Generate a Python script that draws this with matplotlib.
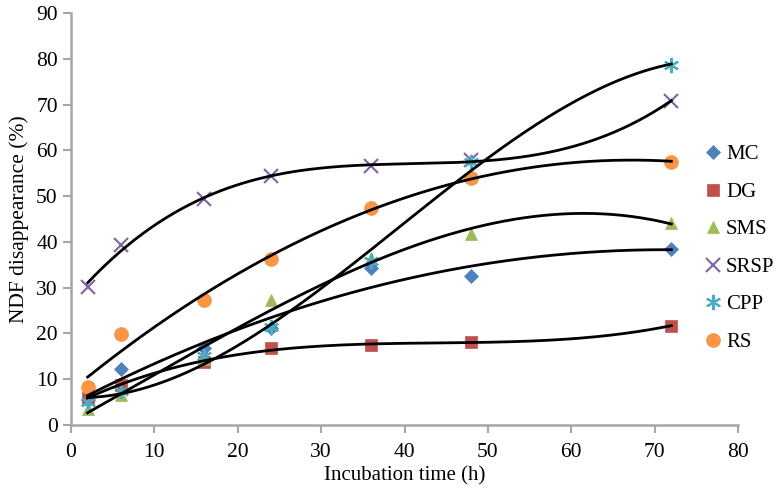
import numpy as np
import matplotlib
matplotlib.use("Agg")
import matplotlib.pyplot as plt

plt.rcParams['font.family'] = ['Liberation Serif', 'DejaVu Serif']

hours = [2, 6, 16, 24, 36, 48, 72]
mc = [5.5, 12.2, 16.8, 21.2, 34.3, 32.5, 38.5]
dg = [6.0, 8.8, 13.8, 16.8, 17.4, 18.1, 21.7]
sms = [3.5, 6.5, 14.5, 27.3, 36.5, 41.7, 44.1]
srsp = [30.2, 39.3, 49.4, 54.3, 56.6, 57.8, 70.8]
cpp = [5.0, 7.5, 15.0, 21.5, 35.8, 57.5, 78.6]
rs = [8.2, 19.9, 27.2, 36.3, 47.5, 54.0, 57.5]

names = ['MC', 'DG', 'SMS', 'SRSP', 'CPP', 'RS']
series = [mc, dg, sms, srsp, cpp, rs]
colors = ['#4F81BD', '#C0504D', '#9BBB59', '#8064A2', '#4BACC6', '#F79646']
markers = ['D', 's', '^', 'x', (6, 2, 0), 'o']
msizes = [7.5, 8.5, 9, 10, 11, 10]
degrees = [2, 3, 3, 3, 3, 2]

fig = plt.figure(figsize=(7.75, 4.94), dpi=100)
ax = fig.add_axes([0.0916, 0.1397, 0.8607, 0.834])

x = np.array(hours, dtype=float)
xs = np.linspace(2, 72, 300)
for name, ys, c, m, ms in zip(names, series, colors, markers, msizes):
    ax.plot(x, ys, linestyle='none', marker=m, color=c, markersize=ms,
            markeredgewidth=1.5 if m == 'x' or isinstance(m, tuple) else 0.5,
            markeredgecolor=c, label=name, zorder=3)
for ys, d in zip(series, degrees):
    p = np.polyfit(x, np.array(ys), d)
    ax.plot(xs, np.polyval(p, xs), color='black', lw=2.0, zorder=4)

ax.set_xlim(0, 80)
ax.set_ylim(0, 90)
ax.set_xticks(range(0, 81, 10))
ax.set_yticks(range(0, 91, 10))
for s in ['top', 'right']:
    ax.spines[s].set_visible(False)
for s in ['left', 'bottom']:
    ax.spines[s].set_color('#A6A6A6')
    ax.spines[s].set_linewidth(1.8)
ax.tick_params(axis='both', colors='#A6A6A6', length=6, width=1.5, labelsize=15.5,
               labelcolor='black', direction='out')
ax.tick_params(axis='x', pad=7)
ax.set_xlabel('Incubation time (h)', fontsize=15, labelpad=3)
ax.set_ylabel('NDF disappearance (%)', fontsize=15.5, labelpad=5)

leg = fig.legend(loc='upper left', bbox_to_anchor=(0.906, 0.707), frameon=False,
                 fontsize=15, handletextpad=0.15, labelspacing=0.86, handlelength=1.0,
                 borderaxespad=0, borderpad=0)

fig.savefig('out.png', dpi=100)
